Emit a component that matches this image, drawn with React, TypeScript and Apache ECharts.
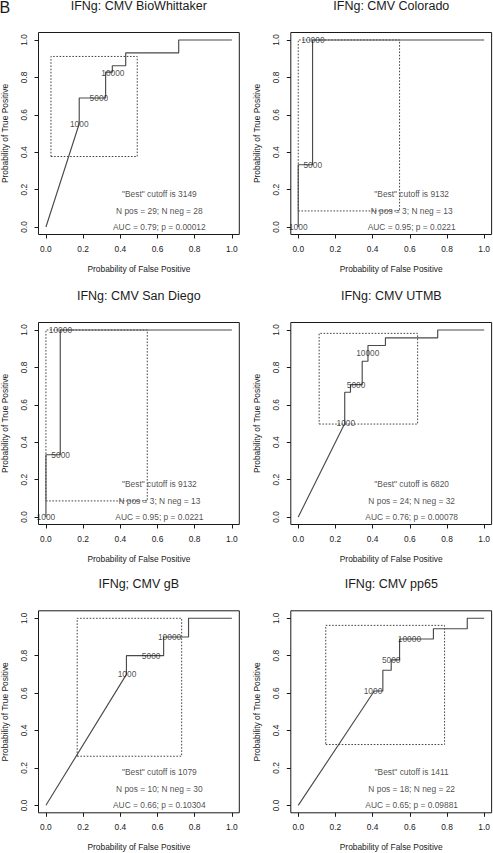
import React, { useEffect, useRef } from "react";
import * as echarts from "echarts";

// ---------- data ----------
const PANEL_LETTER = "B";
const TITLES = [
  "IFNg: CMV BioWhittaker",
  "IFNg: CMV Colorado",
  "IFNg: CMV San Diego",
  "IFNg: CMV UTMB",
  "IFNg; CMV gB",
  "IFNg: CMV pp65",
];
const X_AXIS_TITLE = "Probability of False Positive";
const Y_AXIS_TITLE = "Probability of True Positive";
const AXIS_TICKS = [0, 0.2, 0.4, 0.6, 0.8, 1.0];

// ROC curves: [false positive rate, true positive rate]
const ROC_BIOWHITTAKER = [
  [0, 0], [0.179, 0.552], [0.179, 0.69], [0.321, 0.69], [0.321, 0.828], [0.357, 0.828],
  [0.357, 0.862], [0.429, 0.862], [0.429, 0.931], [0.714, 0.931], [0.714, 1.0], [1.0, 1.0],
];
const ROC_COLORADO = [[0, 0], [0, 0.333], [0.077, 0.333], [0.077, 1.0], [1.0, 1.0]];
const ROC_SANDIEGO = [[0, 0], [0, 0.333], [0.077, 0.333], [0.077, 1.0], [1.0, 1.0]];
const ROC_UTMB = [
  [0, 0], [0.25, 0.5], [0.25, 0.667], [0.281, 0.667], [0.281, 0.708], [0.344, 0.708],
  [0.344, 0.833], [0.375, 0.833], [0.375, 0.917], [0.469, 0.917], [0.469, 0.958],
  [0.75, 0.958], [0.75, 1.0], [1.0, 1.0],
];
const ROC_GB = [
  [0, 0], [0.433, 0.7], [0.433, 0.8], [0.633, 0.8], [0.633, 0.9], [0.767, 0.9],
  [0.767, 1.0], [1.0, 1.0],
];
const ROC_PP65 = [
  [0, 0], [0.409, 0.611], [0.455, 0.611], [0.455, 0.722], [0.5, 0.722], [0.5, 0.778],
  [0.545, 0.778], [0.545, 0.889], [0.727, 0.889], [0.727, 0.944], [0.909, 0.944],
  [0.909, 1.0], [1.0, 1.0],
];

// dotted confidence boxes: [xMin, xMax, yMin, yMax]
const BOX_BIOWHITTAKER = [0.027, 0.491, 0.377, 0.912];
const BOX_COLORADO = [0, 0.545, 0.086, 1.0];
const BOX_SANDIEGO = [0, 0.545, 0.086, 1.0];
const BOX_UTMB = [0.1125, 0.642, 0.497, 0.982];
const BOX_GB = [0.168, 0.73, 0.2625, 1.0];
const BOX_PP65 = [0.148, 0.787, 0.325, 0.962];

// cutoff labels and where they sit on each curve
const CUTOFF_NAMES = ["1000", "5000", "10000"];
const CUTOFFS_BIOWHITTAKER = [[0.179, 0.55], [0.285, 0.69], [0.36, 0.826]];
const CUTOFFS_COLORADO = [[0, 0], [0.078, 0.333], [0.079, 1.0]];
const CUTOFFS_SANDIEGO = [[0, 0], [0.079, 0.333], [0.078, 1.0]];
const CUTOFFS_UTMB = [[0.256, 0.503], [0.311, 0.708], [0.374, 0.875]];
const CUTOFFS_GB = [[0.436, 0.7], [0.566, 0.8], [0.665, 0.9]];
const CUTOFFS_PP65 = [[0.402, 0.61], [0.5, 0.777], [0.598, 0.889]];

// summary statistics
const BEST_CUTOFF = [3149, 9132, 9132, 6820, 1079, 1411];
const N_POS = [29, 3, 3, 24, 10, 18];
const N_NEG = [28, 13, 13, 32, 30, 22];
const AUC = ["0.79", "0.95", "0.95", "0.76", "0.66", "0.65"];
const P_VALUE = ["0.00012", "0.0221", "0.0221", "0.00078", "0.10304", "0.09881"];
const STATS_X = 0.61;
const STATS_Y = [0.177, 0.088, 0.0];

const ROC_CURVES = [ROC_BIOWHITTAKER, ROC_COLORADO, ROC_SANDIEGO, ROC_UTMB, ROC_GB, ROC_PP65];
const BOXES = [BOX_BIOWHITTAKER, BOX_COLORADO, BOX_SANDIEGO, BOX_UTMB, BOX_GB, BOX_PP65];
const CUTOFF_POINTS = [
  CUTOFFS_BIOWHITTAKER, CUTOFFS_COLORADO, CUTOFFS_SANDIEGO, CUTOFFS_UTMB, CUTOFFS_GB, CUTOFFS_PP65,
];

// ---------- layout ----------
const W = 493;
const H = 853;
const FONT = "'Liberation Sans', Arial, Helvetica, sans-serif";
const COL_LEFT = [38.3, 290.8];
const ROW_TOP = [32.5, 322.5, 610.8];
const GRID_W = 201;
const GRID_H = 202;
const SMALL = 8.4;
const INK = "#1a1a1a";

function buildOption() {
  const grid: any[] = [];
  const xAxis: any[] = [];
  const yAxis: any[] = [];
  const series: any[] = [];
  const graphic: any[] = [];

  graphic.push({
    type: "text",
    x: -0.5,
    y: 7.5,
    style: { text: PANEL_LETTER, fontSize: 16, fontFamily: FONT, fill: INK, align: "left", verticalAlign: "middle" },
  });

  for (let i = 0; i < 6; i++) {
    const col = i % 2;
    const row = Math.floor(i / 2);
    const left = COL_LEFT[col];
    const top = ROW_TOP[row];
    grid.push({
      left, top, width: GRID_W, height: GRID_H,
      show: true, borderColor: INK, borderWidth: 1, backgroundColor: "transparent",
      containLabel: false,
    });
    graphic.push({
      type: "text",
      x: left + GRID_W / 2,
      y: top - 27,
      style: { text: TITLES[i], fontSize: 12.5, fontFamily: FONT, fill: INK, align: "center", verticalAlign: "middle" },
    });

    const axisCommon = {
      gridIndex: i,
      type: "value",
      min: -0.04,
      max: 1.04,
      axisLine: { show: false, onZero: false },
      splitLine: { show: false },
      axisTick: { show: true, inside: false, length: 4, customValues: AXIS_TICKS, lineStyle: { color: INK, width: 1 } },
      nameLocation: "middle",
      nameTextStyle: { fontSize: SMALL, fontFamily: FONT, color: INK },
    };
    xAxis.push({
      ...axisCommon,
      position: "bottom",
      name: X_AXIS_TITLE,
      nameGap: 30,
      axisLabel: {
        customValues: AXIS_TICKS,
        formatter: (v: number) => v.toFixed(1),
        fontSize: SMALL, fontFamily: FONT, color: INK, margin: 10,
      },
    });
    yAxis.push({
      ...axisCommon,
      position: "left",
      name: Y_AXIS_TITLE,
      nameGap: 29.5,
      nameRotate: 90,
      axisLabel: {
        customValues: AXIS_TICKS,
        formatter: (v: number) => v.toFixed(1),
        rotate: 90,
        fontSize: SMALL, fontFamily: FONT, color: INK, margin: 11,
      },
    });

    const b = BOXES[i];
    series.push({
      type: "line",
      xAxisIndex: i, yAxisIndex: i,
      data: [[b[0], b[2]], [b[1], b[2]], [b[1], b[3]], [b[0], b[3]], [b[0], b[2]]],
      symbol: "none",
      lineStyle: { color: "#444", width: 1, type: [1.6, 1.6] },
      silent: true, z: 2,
    });
    series.push({
      type: "line",
      xAxisIndex: i, yAxisIndex: i,
      data: ROC_CURVES[i],
      symbol: "none",
      lineStyle: { color: "#4a4a4a", width: 1.15 },
      silent: true, z: 3,
    });
    series.push({
      type: "scatter",
      xAxisIndex: i, yAxisIndex: i,
      symbolSize: 1,
      itemStyle: { color: "transparent" },
      data: CUTOFF_POINTS[i].map((p, k) => ({ value: p, name: CUTOFF_NAMES[k] })),
      label: { show: true, position: "inside", formatter: "{b}", fontSize: SMALL, fontFamily: FONT, color: INK },
      silent: true, z: 4,
    });
    const statTexts = [
      `"Best" cutoff is ${BEST_CUTOFF[i]}`,
      `N pos = ${N_POS[i]}; N neg = ${N_NEG[i]}`,
      `AUC = ${AUC[i]}; p = ${P_VALUE[i]}`,
    ];
    series.push({
      type: "scatter",
      xAxisIndex: i, yAxisIndex: i,
      symbolSize: 1,
      itemStyle: { color: "transparent" },
      data: statTexts.map((t, k) => ({ value: [STATS_X, STATS_Y[k]], name: t })),
      label: { show: true, position: "inside", formatter: "{b}", fontSize: SMALL, fontFamily: FONT, color: INK },
      silent: true, z: 4,
    });
  }

  return {
    animation: false,
    backgroundColor: "#ffffff",
    textStyle: { fontFamily: FONT },
    grid, xAxis, yAxis, series, graphic,
  };
}

export default function App() {
  const ref = useRef<HTMLDivElement>(null);
  useEffect(() => {
    if (!ref.current) return;
    const chart = echarts.init(ref.current, undefined, { renderer: "svg", width: W, height: H });
    chart.setOption(buildOption() as any);
    return () => chart.dispose();
  }, []);
  return (
    <div
      ref={ref}
      style={{ position: "fixed", left: 0, top: 0, width: W, height: H, background: "#fff" }}
    />
  );
}
